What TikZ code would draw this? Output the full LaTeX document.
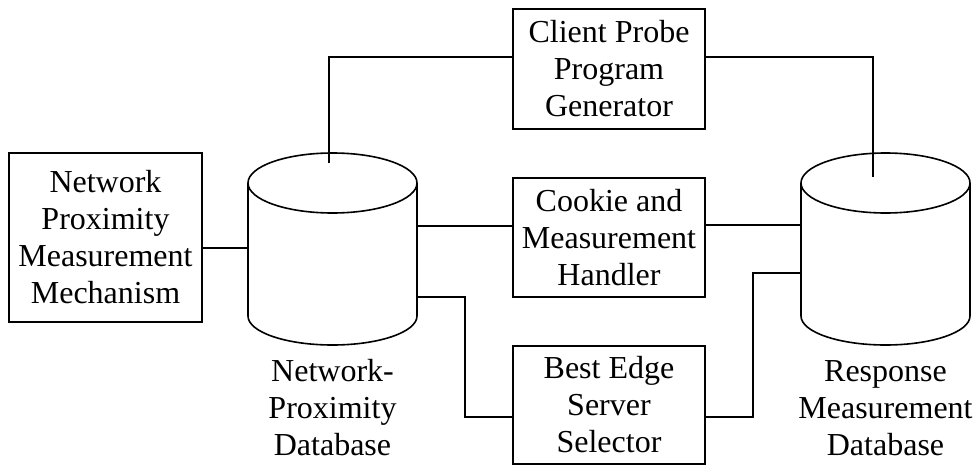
\documentclass[tikz,border=0pt]{standalone}
\usepackage{fontspec}
\setmainfont{Liberation Serif}
\begin{document}
\begin{tikzpicture}[x=1pt,y=-1pt,
  box/.style={draw=black,line width=1.5pt,fill=white,inner sep=0pt,align=center,
    font=\fontsize{32}{37}\selectfont},
  lbl/.style={align=center,inner sep=0pt,font=\fontsize{32}{37}\selectfont},
  wire/.style={line width=1.5pt,draw=black},
  dbshape/.style={line width=1.6pt,draw=black}]
  \fill[white] (0,0) rectangle (977,466);
  \useasboundingbox (0,0) rectangle (977,466);

  % processing boxes
  \node[box,minimum width=192,minimum height=120] (cppg) at (609,69)
    {Client Probe\\Program\\Generator};
  \node[box,minimum width=192,minimum height=119] (cmh) at (609,237.5)
    {Cookie and\\Measurement\\Handler};
  \node[box,minimum width=192,minimum height=118] (bess) at (609,405)
    {Best Edge\\Server\\Selector};
  \node[box,minimum width=193,minimum height=169] (npmm) at (105.5,237.5)
    {Network\\Proximity\\Measurement\\Mechanism};

  % database extents (used as anchors for the cylinders)
  \node[inner sep=0pt,minimum width=169,minimum height=192] (npdb) at (332.5,249) {};
  \node[inner sep=0pt,minimum width=169,minimum height=192] (rmdb) at (885.5,249) {};

  % network-proximity database cylinder
  \draw[dbshape] (248,183) -- (248,316)
    arc[start angle=180,end angle=0,x radius=84.5,y radius=29] -- (417,183);
  \draw[dbshape] (332.5,183) ellipse[x radius=84.5,y radius=30];
  % response measurement database cylinder
  \draw[dbshape] (801,183) -- (801,316)
    arc[start angle=180,end angle=0,x radius=84.5,y radius=29] -- (970,183);
  \draw[dbshape] (885.5,183) ellipse[x radius=84.5,y radius=30];

  % database captions
  \node[lbl] (npdbl) at (332.5,408) {Network-\\Proximity\\Database};
  \node[lbl] (rmdbl) at (885.5,408) {Response\\Measurement\\Database};

  % connector end points
  \coordinate (npdbtop) at (329,163);
  \coordinate (rmdbtop) at (873,177);

  % connectors
  \draw[wire] (npdbtop) |- (cppg.west |- 0,57);
  \draw[wire] (cppg.east |- 0,57) -| (rmdbtop);
  \draw[wire] (npmm.east |- 0,248) -- (npdb.west |- 0,248);
  \draw[wire] (npdb.east |- 0,226) -- (cmh.west |- 0,226);
  \draw[wire] (cmh.east |- 0,225) -- (rmdb.west |- 0,225);
  \draw[wire] (npdb.east |- 0,297) -- (465,297) |- (bess.west |- 0,417);
  \draw[wire] (bess.east |- 0,417) -- (753,417) |- (rmdb.west |- 0,273);
\end{tikzpicture}
\end{document}
